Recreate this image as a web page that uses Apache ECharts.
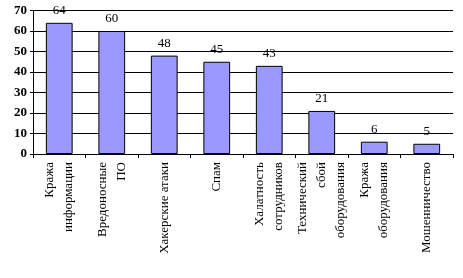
<!DOCTYPE html>
<html><head><meta charset="utf-8">
<script src="https://cdn.jsdelivr.net/npm/echarts@6/dist/echarts.min.js"></script>
<style>html,body{margin:0;padding:0;background:#fff}#c{width:463px;height:278px}</style>
</head><body><div id="c"></div>
<script>
var categories = ["Кража\nинформации","Вредоносные\nПО","Хакерские атаки","Спам","Халатность\nсотрудников","Технический\nсбой\nоборудования","Кража\nоборудования","Мошенничество"];
var values = [64, 60, 48, 45, 43, 21, 6, 5];
var yTicks = [0, 10, 20, 30, 40, 50, 60, 70];

var chart = echarts.init(document.getElementById('c'));
chart.setOption({
  animation: false,
  backgroundColor: '#fff',
  grid: {left: 33, right: 10, top: 10.5, bottom: 124, containLabel: false},
  xAxis: {
    type: 'category', data: categories,
    axisLine: {lineStyle: {color: '#000', width: 1}},
    axisTick: {show: true, length: 4, lineStyle: {color: '#000'}},
    axisLabel: {rotate: 90, margin: 8, fontFamily: 'Liberation Serif', fontSize: 13, color: '#000', lineHeight: 19, interval: 0}
  },
  yAxis: {
    type: 'value', min: yTicks[0], max: yTicks[yTicks.length-1], interval: 10,
    axisLine: {show: true, lineStyle: {color: '#000'}},
    axisTick: {show: true, length: 3, lineStyle: {color: '#000'}},
    splitLine: {lineStyle: {color: '#000', width: 1}},
    axisLabel: {fontFamily: 'Liberation Serif', fontSize: 13, fontWeight: 'bold', color: '#000', margin: 6}
  },
  series: [{
    type: 'bar', data: values, barWidth: '51%',
    itemStyle: {color: '#9999FF', borderColor: '#000', borderWidth: 1},
    label: {show: true, position: 'top', distance: 6, fontFamily: 'Liberation Serif', fontSize: 13, color: '#000'}
  }]
});
</script></body></html>
